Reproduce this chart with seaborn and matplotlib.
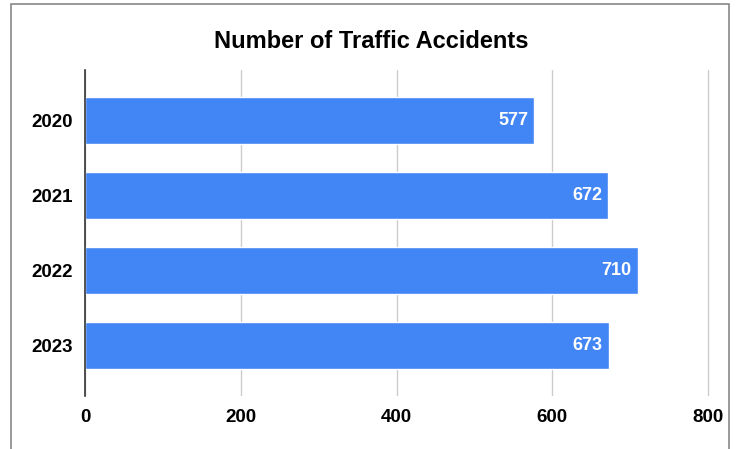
import pandas as pd
import matplotlib.pyplot as plt
import seaborn as sns
from matplotlib.patches import Rectangle

# Chart data
years = ['2020', '2021', '2022', '2023']
accidents = [577, 672, 710, 673]
x_ticks = [0, 200, 400, 600, 800]

df = pd.DataFrame({'Year': years, 'Accidents': accidents})

sns.set_style('white')
plt.rcParams['font.family'] = ['Liberation Sans', 'DejaVu Sans']
plt.rcParams['text.color'] = 'black'
plt.rcParams['xtick.color'] = 'black'
plt.rcParams['ytick.color'] = 'black'

fig = plt.figure(figsize=(7.37, 4.49), dpi=100)
# 800 should land at x=708, leave a little room so the last gridline is not clipped
ax = fig.add_axes([85 / 737, 1 - 396 / 449, 623 * 805 / 800 / 737, 326 / 449])

sns.barplot(data=df, x='Accidents', y='Year', orient='h', color='#4285F4',
            saturation=1, width=0.63, ax=ax, zorder=2)

# value labels inside the bar ends
for i, v in enumerate(accidents):
    ax.text(v - 8, i, str(v), ha='right', va='center', color='white',
            fontsize=13, fontweight='bold')

ax.set_xlim(0, 805)
ax.set_ylim(3.67, -0.67)
ax.set_xticks(x_ticks)
ax.set_xticklabels([str(t) for t in x_ticks], fontsize=13.5, fontweight='bold')
ax.set_yticklabels(years, fontsize=13.5, fontweight='bold')
ax.tick_params(axis='both', length=0, pad=9)
ax.grid(axis='x', color='#cccccc', linewidth=1, zorder=0)
ax.set_xlabel('')
ax.set_ylabel('')
for side in ['top', 'right', 'bottom']:
    ax.spines[side].set_visible(False)
ax.spines['left'].set_color('#333333')
ax.spines['left'].set_linewidth(1.2)
ax.spines['left'].set_zorder(3)

fig.text(371 / 737, 1 - 42 / 449, 'Number of Traffic Accidents', ha='center',
         va='center', fontsize=17, fontweight='bold', color='black')

# outer frame
fig.patches.append(Rectangle((10.5 / 737, -0.1), 718.5 / 737, 1.1 - 4.5 / 449,
                             transform=fig.transFigure, fill=False,
                             edgecolor='#888888', linewidth=1.2))

fig.savefig('out.png', dpi=100)
